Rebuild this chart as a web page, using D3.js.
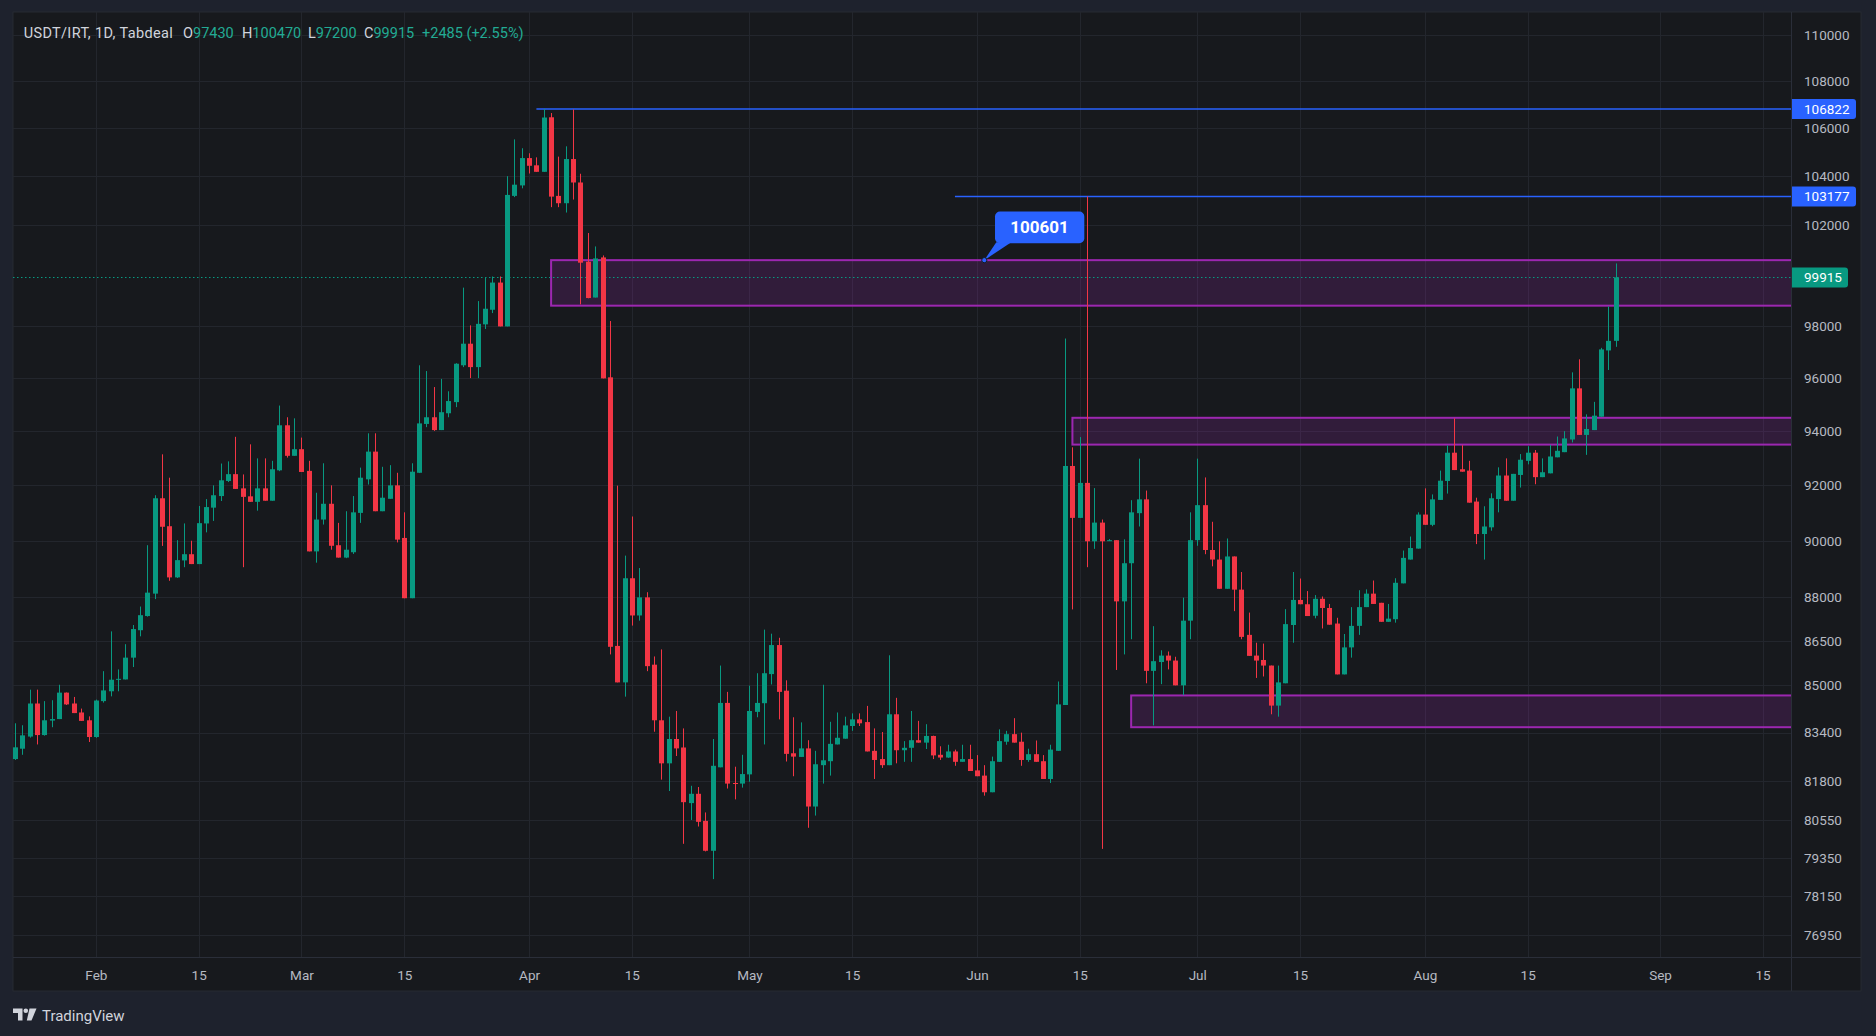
<!DOCTYPE html>
<html><head><meta charset="utf-8">
<script src="https://cdn.jsdelivr.net/npm/d3@7"></script>
<style>
html,body{margin:0;padding:0;background:#1e222d;}
svg{display:block;font-family:Roboto,"Noto Sans",sans-serif;}
</style></head><body>
<svg id="c" width="1876" height="1036"></svg>
<script>
// ---------------- DATA ----------------
const symbolTitle = "USDT/IRT, 1D, Tabdeal";
const startDate = "2025-01-21"; // first daily candle, consecutive days
const opens = [
82530,82870,83270,84370,83320,83800,83850,84735,84370,84070,83810,
83255,84450,84780,85170,85180,85920,86860,87350,88130,91530,
90520,88700,89300,89520,89170,90620,91190,91610,92160,92410,
91890,91600,91400,91890,91440,92550,94220,93085,93330,92530,
89620,90760,91330,89840,89400,89590,91000,92220,93240,91060,
91510,92000,90100,87970,92460,94270,94520,94040,94670,95090,
96490,97320,96420,98070,98640,99710,97990,103200,103630,104760,
104460,104190,106470,103200,102900,104720,103750,100540,99120,100710,
96030,86320,85080,88670,87370,88000,85680,83810,82390,83190,
82910,81100,81400,80530,79580,82260,84390,81750,81730,82030,
84090,84380,85360,86350,84800,82720,82600,82880,80990,82330,
82460,83010,83200,83620,83840,83750,82800,82530,82330,84010,
82820,82900,83150,83070,83290,82670,82580,82780,82440,82530,
82160,81990,81450,82440,83100,83350,83100,82500,82690,82460,
81880,82800,84320,92710,90820,92090,89980,90650,90020,90020,
87860,89200,90990,91490,85470,85770,85990,85820,84980,87190,
90020,91280,89670,89330,88300,89440,88270,86700,85990,85840,
85650,84300,85050,87040,87910,87760,87360,87950,87630,87090,
85350,86270,87010,87660,88130,87810,87150,87240,88490,89330,
89720,90940,90570,91470,92160,93200,92590,92540,91410,90240,
90480,91500,92360,91440,92380,92900,93200,92300,92440,93030,
93220,93690,95610,93860,94040,94540,97060,97430];
const highs = [
83710,83645,84835,84835,84450,84480,85000,84740,84590,84200,83940,
84500,85460,86820,85520,86380,87040,87680,89840,91640,93140,
92280,90020,90620,90000,91250,91500,92000,92800,92880,93790,
92400,93510,92990,92990,92900,94960,94520,94480,93760,92900,
91730,92810,92000,90640,91060,91610,92650,93920,93920,92680,
92740,92460,91020,92810,96490,96270,95660,95970,95500,96570,
99510,98030,98980,99930,99950,99950,104010,105540,105170,104960,
104790,106822,106650,104820,105250,106800,104110,101690,101150,100790,
98200,91990,89470,90870,89030,88180,85960,86200,83930,84120,
83540,81660,81620,80800,83190,85650,84760,82280,82670,84970,
85390,86880,86740,86600,85150,83910,83740,83150,82800,85000,
83760,84070,83930,84040,84040,84290,83540,83420,86000,84560,
83120,84120,83790,83680,83300,82950,83000,82840,83000,83000,
82660,82330,82610,83510,83460,83880,83400,82870,83140,82660,
83000,85110,97520,93400,93780,103177,91900,90760,90060,90020,
90050,91460,92980,91810,87000,86170,86130,85950,87990,91020,
92980,92290,90680,89980,90080,89440,88890,87470,86430,86400,
85650,85650,87590,88890,88660,88220,88080,88030,87770,87290,
86730,87660,88250,88280,88590,87810,87770,88670,89650,90150,
91020,91890,91670,92540,93470,94480,93480,92900,91550,91240,
91710,92660,92990,92420,93150,93440,93300,92990,93490,93800,
94000,96220,96720,94630,95100,97160,98770,100470];
const lows = [
82500,82670,83235,83010,83300,83580,83850,84320,84050,83790,83090,
83230,84400,84610,84780,85180,85600,86650,87330,87940,89815,
88580,88680,89060,89170,89170,90300,90710,91430,92120,91870,
89060,91400,91080,91440,91440,92520,93020,93085,92490,89620,
89220,90580,89680,89400,89380,89530,90640,92030,91060,91060,
91510,89940,87970,87970,92450,94150,94010,94040,94520,94900,
96420,96000,96000,97890,98510,97990,97990,103150,103510,104120,
104190,104190,102740,102740,102520,103050,98850,99090,99120,95990,
86030,85080,84600,87020,87190,85460,83430,81860,81490,82630,
79800,80560,80350,79560,78690,82260,81570,81220,81600,81790,
83910,83010,85010,83840,82450,81970,82600,80310,80700,81730,
81990,83010,83200,83460,83620,82780,81880,82240,82330,82390,
82440,82440,83070,82860,82530,82500,82570,82310,82440,82140,
81970,81340,81450,82440,83000,83070,82310,82440,82440,81880,
81750,82800,84320,87580,90820,89060,89710,79640,89990,85500,
86030,86550,90510,85050,83640,85020,85520,84980,84650,86550,
89820,89520,89090,88300,88300,87520,86550,85980,85230,85280,
84010,83930,85050,86430,87760,87350,87270,86920,87050,85350,
85350,85920,86700,87660,87770,87150,87150,87120,88490,89330,
89720,90570,90520,91470,91700,92560,92500,91370,89880,89330,
90360,91020,91440,91440,91920,92770,92040,92300,92440,93030,
93220,93580,93860,93120,94040,94540,96310,97200];
const closes = [
82915,83310,84370,83320,83810,83850,84735,84340,84050,83790,83255,
84470,84810,85170,85200,85920,86900,87380,88165,91530,90500,
88700,89310,89520,89170,90630,91210,91640,92185,92410,91870,
91580,91400,91890,91440,92590,94220,93085,93330,92490,89620,
90760,91330,89820,89400,89680,91020,92280,93240,91060,91550,
92000,90040,87970,92500,94290,94520,94040,94710,95130,96550,
97320,96420,98090,98680,99710,97990,103240,103660,104760,104440,
104190,106460,103170,102900,104720,103750,100500,99100,100670,95990,
86290,85080,88670,87370,88000,85630,83810,82390,83190,82880,
81130,81400,80500,79580,82310,84390,81730,81740,82040,84120,
84390,85390,86350,84760,82700,82610,82880,80990,82360,82490,
83030,83230,83640,83840,83710,82780,82500,82330,84010,82820,
82900,83150,83070,83290,82650,82580,82780,82440,82530,82140,
81970,81450,82460,83120,83350,83070,82500,82690,82440,81880,
82840,84340,92710,90820,92090,89980,90650,89980,90020,87860,
89200,91020,91490,85470,85800,85990,85820,84980,87190,90020,
91280,89670,89330,88300,89440,88270,86630,85980,85820,85650,
84300,85080,87070,87910,87760,87350,87950,87630,87050,85350,
86270,87010,87660,88130,87770,87150,87260,88510,89390,89740,
90940,90570,91490,92170,93200,92560,92500,91370,90240,90510,
91530,92360,91440,92420,92940,93200,92300,92480,93060,93270,
93730,95610,93860,94080,94580,97100,97430,99915];

const priceTicks = [110000,108000,106000,104000,102000,98000,96000,94000,92000,90000,88000,86500,85000,83400,81800,80550,79350,78150,76950];
const timeTicks = ["2025-02-01","2025-02-15","2025-03-01","2025-03-15","2025-04-01","2025-04-15","2025-05-01","2025-05-15","2025-06-01","2025-06-15","2025-07-01","2025-07-15","2025-08-01","2025-08-15","2025-09-01","2025-09-15"];

const zoneFrom   = ["2025-04-04","2025-06-14","2025-06-22"];
const zoneTop    = [100601, 94500, 84640];
const zoneBottom = [98800, 93500, 83580];

const levelFrom  = ["2025-04-02","2025-05-29"];
const levelValue = [106822, 103177];

const noteDate = "2025-06-02";
const noteValue = 100601;

// ---------------- LAYOUT ----------------
const W = 1876, H = 1036;
const panel = {l:13, t:12, r:1861, b:991};
const plot = {l:13, t:12, r:1791, b:957};
const up = "#089981", down = "#f23645";
const gridC = "#23262d", sepC = "#2a2e39", textC = "#b6b9c2";

const parse = d3.utcParse("%Y-%m-%d");
const t0 = parse(startDate);
const n = closes.length;
const dates = d3.range(n).map(i => d3.utcDay.offset(t0, i));
const lastDate = dates[n-1];
const dayW = 7.3425;
const x0 = 15.1;
const x = d3.scaleUtc()
  .domain([t0, lastDate, parse("2025-09-01"), parse("2025-09-20")])
  .range([x0, x0 + (n-1)*dayW, 1660, 1660 + 19*7.33]);

const y = d3.scaleLog().domain([76295, 111013]).range([plot.b, plot.t]);

const svg = d3.select("#c");
svg.append("rect").attr("width", W).attr("height", H).attr("fill", "#1e222d");
svg.append("rect").attr("x", panel.l).attr("y", panel.t)
  .attr("width", panel.r-panel.l).attr("height", panel.b-panel.t)
  .attr("fill", "#17191d").attr("stroke", "#262a33").attr("stroke-width", 1);

svg.append("defs").append("clipPath").attr("id","clip")
  .append("rect").attr("x", plot.l).attr("y", plot.t)
  .attr("width", plot.r-plot.l).attr("height", plot.b-plot.t);

// grid
const grid = svg.append("g").attr("clip-path","url(#clip)");
grid.selectAll("line.v").data(timeTicks).join("line")
  .attr("x1", d => Math.round(x(parse(d)))+0.5).attr("x2", d => Math.round(x(parse(d)))+0.5)
  .attr("y1", plot.t).attr("y2", plot.b).attr("stroke", gridC);
grid.selectAll("line.h").data(priceTicks).join("line")
  .attr("y1", d => Math.round(y(d))+0.5).attr("y2", d => Math.round(y(d))+0.5)
  .attr("x1", plot.l).attr("x2", plot.r).attr("stroke", gridC);

// separators
svg.append("line").attr("x1", plot.r+0.5).attr("x2", plot.r+0.5).attr("y1", panel.t).attr("y2", panel.b).attr("stroke", sepC);
svg.append("line").attr("x1", panel.l).attr("x2", panel.r).attr("y1", plot.b+0.5).attr("y2", plot.b+0.5).attr("stroke", sepC);

const main = svg.append("g").attr("clip-path","url(#clip)");

// zones
const zones = zoneFrom.map((d,i)=>({from:parse(d), top:zoneTop[i], bottom:zoneBottom[i]}));
main.selectAll("rect.zone").data(zones).join("rect")
  .attr("x", d => x(d.from)).attr("y", d => y(d.top))
  .attr("width", d => plot.r + 2 - x(d.from))
  .attr("height", d => y(d.bottom) - y(d.top))
  .attr("fill", "rgba(156,39,176,0.2)")
  .attr("stroke", "#9c27b0").attr("stroke-width", 2);

// current price dotted line
const lastClose = closes[n-1];
main.append("line").attr("x1", plot.l).attr("x2", plot.r)
  .attr("y1", Math.round(y(lastClose))+0.5).attr("y2", Math.round(y(lastClose))+0.5)
  .attr("stroke", up).attr("stroke-dasharray", "1.5,2.5").attr("stroke-width", 1);

// horizontal levels
const levels = levelFrom.map((d,i)=>({from:parse(d), v:levelValue[i]}));
main.selectAll("line.level").data(levels).join("line")
  .attr("x1", d => x(d.from)).attr("x2", plot.r)
  .attr("y1", d => y(d.v)).attr("y2", d => y(d.v))
  .attr("stroke", "#2962ff").attr("stroke-width", 1.5);

// candles
const candles = dates.map((d,i)=>({d, o:opens[i], h:highs[i], l:lows[i], c:closes[i]}));
const cg = main.append("g");
cg.selectAll("line.wick").data(candles).join("line")
  .attr("x1", d => Math.round(x(d.d))+0.5).attr("x2", d => Math.round(x(d.d))+0.5)
  .attr("y1", d => y(d.h)).attr("y2", d => y(d.l))
  .attr("stroke", d => d.c >= d.o ? up : down).attr("stroke-width", 1);
cg.selectAll("rect.body").data(candles).join("rect")
  .attr("x", d => Math.round(x(d.d)) - 2)
  .attr("width", 5)
  .attr("y", d => y(Math.max(d.o, d.c)))
  .attr("height", d => Math.max(1, Math.abs(y(d.o) - y(d.c))))
  .attr("fill", d => d.c >= d.o ? up : down);

// annotation bubble
const ax = x(parse(noteDate)), ay = y(noteValue);
const ann = svg.append("g");
ann.append("path")
  .attr("d", `M${ax+12},${ay-18} L${ax+27},${ay-18} L${ax},${ay} Z`)
  .attr("fill", "#2962ff");
ann.append("rect").attr("x", ax+10.7).attr("y", ay-48.6).attr("width", 89.3).attr("height", 31.6)
  .attr("rx", 5).attr("fill", "#2962ff");
ann.append("circle").attr("cx", ax).attr("cy", ay).attr("r", 2.6)
  .attr("fill", "#2962ff").attr("stroke", "#17191d").attr("stroke-width", 1);
ann.append("text").attr("x", ax+55.3).attr("y", ay-32.8).attr("dy", "0.36em")
  .attr("text-anchor", "middle").attr("fill", "#ffffff")
  .attr("font-size", 17).attr("font-weight", 700).text(d3.format("d")(noteValue));

// price axis
const yAxis = d3.axisRight(y).tickValues(priceTicks).tickSize(0).tickPadding(0).tickFormat(d3.format("d"));
const ya = svg.append("g").attr("transform", "translate(1804,0)").call(yAxis);
ya.select(".domain").remove();
ya.selectAll("text").attr("fill", textC).attr("font-size", 13.5).attr("font-family", "Roboto, 'Noto Sans', sans-serif");

// price labels on axis
function priceLabel(v, fill, w) {
  const yy = y(v);
  svg.append("path")
    .attr("d", `M${plot.r+1},${yy-10} H${plot.r+1+w-3} Q${plot.r+1+w},${yy-10} ${plot.r+1+w},${yy-7} V${yy+7} Q${plot.r+1+w},${yy+10} ${plot.r+1+w-3},${yy+10} H${plot.r+1} Z`)
    .attr("fill", fill);
  svg.append("text").attr("x", 1804).attr("y", yy).attr("dy", "0.36em")
    .attr("fill", "#ffffff").attr("font-size", 13.5).text(d3.format("d")(v));
}
levels.forEach(l => priceLabel(l.v, "#2962ff", 64));
priceLabel(lastClose, up, 56);

// time axis
const fmt = d => d.getUTCDate() === 1 ? d3.utcFormat("%b")(d) : d3.utcFormat("%-d")(d);
const xAxis = d3.axisBottom(x).tickValues(timeTicks.map(parse)).tickSize(0).tickPadding(13).tickFormat(fmt);
const xa = svg.append("g").attr("transform", `translate(0,${plot.b})`).call(xAxis);
xa.select(".domain").remove();
xa.selectAll("text").attr("fill", textC).attr("font-size", 13.5).attr("font-family", "Roboto, 'Noto Sans', sans-serif");

// header legend
const prevClose = closes[n-2];
const chg = lastClose - prevClose;
const chgPct = chg / prevClose * 100;
const hdr = svg.append("g").attr("font-size", 14.5);
const hy = 38;
const lightC = "#d1d4dc", valC = "#22ab94";
hdr.append("text").attr("x", 23.7).attr("y", hy).attr("fill", lightC).attr("textLength", 149).text(symbolTitle);
const items = [["O", opens[n-1], 183], ["H", highs[n-1], 242], ["L", lows[n-1], 308], ["C", closes[n-1], 364]];
items.forEach(([k, v, px]) => {
  const t = hdr.append("text").attr("x", px).attr("y", hy);
  t.append("tspan").attr("fill", lightC).text(k);
  t.append("tspan").attr("fill", valC).text(v);
});
hdr.append("text").attr("x", 422).attr("y", hy).attr("fill", valC)
  .text(`${chg >= 0 ? "+" : ""}${chg} (${chg >= 0 ? "+" : ""}${chgPct.toFixed(2)}%)`);

// TradingView logo
const logo = svg.append("g").attr("fill", "#d1d4dc");
logo.append("path").attr("d", "M13,1008.5 H22.5 V1020.5 H18 V1013 H13 Z");
logo.append("circle").attr("cx", 25.8).attr("cy", 1010.8).attr("r", 2.3);
logo.append("path").attr("d", "M29.5,1008.5 H36.5 L31.5,1020.5 H26.8 Z");
svg.append("text").attr("x", 42).attr("y", 1020.5).attr("fill", "#d1d4dc")
  .attr("font-size", 15).text("TradingView");
</script>
</body></html>
